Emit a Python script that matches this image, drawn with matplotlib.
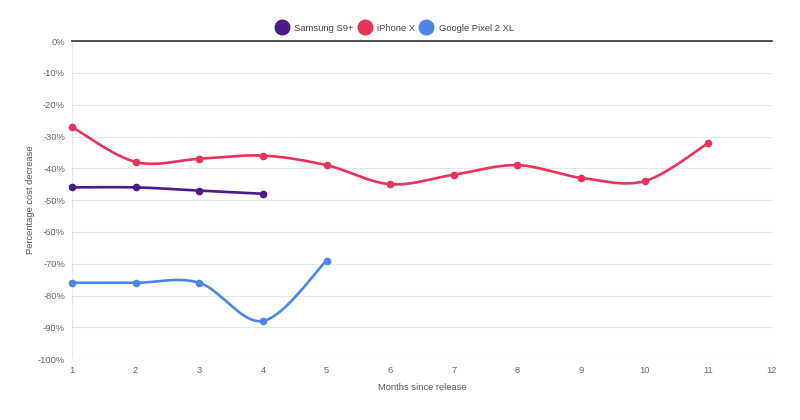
import numpy as np
import matplotlib
matplotlib.use("Agg")
import matplotlib.pyplot as plt
from matplotlib.lines import Line2D

plt.rcParams['font.family'] = ['Liberation Sans', 'DejaVu Sans']

samsung_months = [1, 2, 3, 4]
samsung_vals = [-46, -46, -47, -48]
iphone_months = [1, 2, 3, 4, 5, 6, 7, 8, 9, 10, 11]
iphone_vals = [-27, -38, -37, -36, -39, -45, -42, -39, -43, -44, -32]
pixel_months = [1, 2, 3, 4, 5]
pixel_vals = [-76, -76, -76, -88, -69]

series_names = ["Samsung S9+", "iPhone X", "Google Pixel 2 XL"]
colors = ["#4b1a88", "#e8335b", "#4a86e5"]

x_ticks = list(range(1, 13))
y_ticks = list(range(0, -101, -10))

FS = 6.75


def smooth(xs, ys, n=40):
    xs = np.asarray(xs, float)
    ys = np.asarray(ys, float)
    px = np.concatenate([[xs[0]], xs, [xs[-1]]])
    py = np.concatenate([[ys[0]], ys, [ys[-1]]])
    outx, outy = [], []
    t = np.linspace(0, 1, n)
    for i in range(1, len(px) - 2):
        p0 = np.array([px[i - 1], py[i - 1]])
        p1 = np.array([px[i], py[i]])
        p2 = np.array([px[i + 1], py[i + 1]])
        p3 = np.array([px[i + 2], py[i + 2]])
        c1 = p1 + (p2 - p0) / 6.0
        c2 = p2 - (p3 - p1) / 6.0
        b = ((1 - t) ** 3)[:, None] * p1 + (3 * (1 - t) ** 2 * t)[:, None] * c1 \
            + (3 * (1 - t) * t ** 2)[:, None] * c2 + (t ** 3)[:, None] * p2
        outx.extend(b[:, 0])
        outy.extend(b[:, 1])
    return outx, outy


fig = plt.figure(figsize=(8, 4.2), dpi=100)
ax = fig.add_axes([0.09, 0.145, 0.875, 0.757])

for s in ax.spines.values():
    s.set_visible(False)

ax.set_xlim(1, 12)
ax.set_ylim(-100, 0)
ax.set_xticks(x_ticks)
ax.set_xticklabels([str(v) for v in x_ticks])
ax.set_yticks(y_ticks)
ax.set_yticklabels([f"{v}%" for v in y_ticks])
ax.grid(True, axis='y', color='#e6e6e6', linewidth=0.8)
ax.axvline(1, color='#e6e6e6', linewidth=0.8, zorder=0)
ax.axhline(0, color='#333333', linewidth=1.2, zorder=3, clip_on=False)
ax.tick_params(length=0, labelsize=FS, colors='#666666', pad=5)
ax.set_axisbelow(True)

data = [(samsung_months, samsung_vals), (iphone_months, iphone_vals), (pixel_months, pixel_vals)]
for (mx, vy), c, name in zip(data, colors, series_names):
    sx, sy = smooth(mx, vy)
    ax.plot(sx, sy, color=c, linewidth=1.9, solid_capstyle='round', zorder=4)
    ax.plot(mx, vy, 'o', color=c, markersize=4.5, zorder=5, clip_on=False)

ax.set_xlabel("Months since release", fontsize=FS, color='#555555', labelpad=6)
ax.set_ylabel("Percentage cost decrease", fontsize=FS, color='#555555', labelpad=2)

handles = [Line2D([], [], marker='o', linestyle='none', markersize=10.5, color=c) for c in colors]
fig.legend(handles, series_names, loc='center', bbox_to_anchor=(0.494, 0.933), ncol=3,
           frameon=False, fontsize=FS, handletextpad=0.8, columnspacing=0.6,
           labelcolor='#444444', handlelength=1.1)

fig.savefig("out.png", dpi=100, facecolor='white')
